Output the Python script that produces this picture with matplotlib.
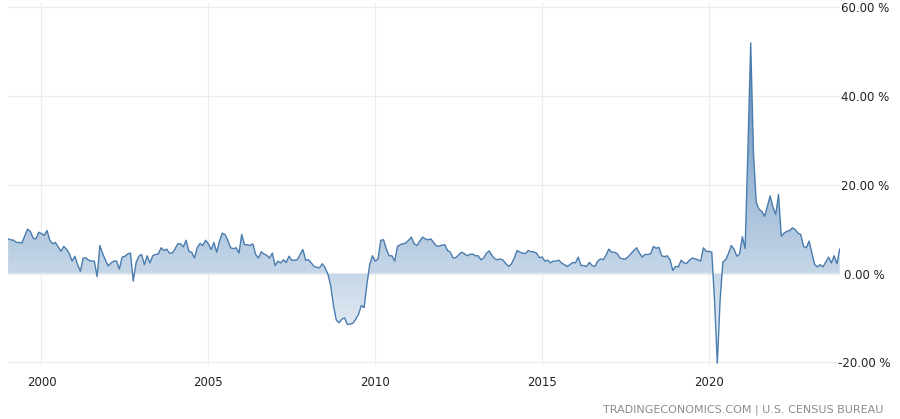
import matplotlib
matplotlib.use("Agg")
import matplotlib.pyplot as plt
from matplotlib.colors import LinearSegmentedColormap
import numpy as np

# ── Data: US retail sales YoY (%), monthly Jan 1999 - Dec 2023 ──────
START_YEAR = 1999
y1999 = [7.8, 7.6, 7.5, 7.0, 7.0, 6.9, 8.5, 10.0, 9.5, 8.0, 7.8, 9.3]
y2000 = [9.0, 8.6, 9.7, 7.5, 6.7, 7.0, 6.0, 5.0, 6.1, 5.5, 4.5, 2.8]
y2001 = [3.9, 2.0, 0.5, 3.5, 3.5, 3.0, 2.8, 2.8, -0.7, 6.3, 4.5, 3.0]
y2002 = [1.7, 2.4, 2.8, 2.8, 1.0, 3.7, 3.9, 4.4, 4.6, -1.7, 2.4, 3.9]
y2003 = [4.3, 2.0, 4.0, 2.4, 4.0, 4.3, 4.4, 5.8, 5.2, 5.5, 4.6, 4.6]
y2004 = [5.5, 6.7, 6.7, 6.0, 7.5, 5.0, 4.8, 3.5, 5.8, 6.8, 6.3, 7.5]
y2005 = [6.7, 5.4, 7.0, 4.8, 7.3, 9.1, 8.8, 7.5, 5.8, 5.6, 5.8, 4.6]
y2006 = [8.8, 6.5, 6.5, 6.3, 6.7, 4.3, 3.5, 4.9, 4.4, 4.1, 3.5, 4.6]
y2007 = [1.8, 2.8, 2.4, 3.1, 2.5, 3.9, 3.0, 3.0, 3.1, 4.3, 5.4, 3.0]
y2008 = [3.1, 2.4, 1.6, 1.4, 1.3, 2.2, 1.3, -0.2, -2.8, -7.3, -10.5, -11.1]
y2009 = [-10.3, -10.0, -11.5, -11.4, -11.2, -10.3, -9.2, -7.2, -7.7, -2.5, 2.0, 4.0]
y2010 = [2.8, 3.3, 7.5, 7.6, 5.5, 4.0, 4.0, 2.8, 6.1, 6.5, 6.7, 6.9]
y2011 = [7.5, 8.2, 6.7, 6.3, 7.3, 8.2, 7.8, 7.6, 7.8, 7.0, 6.2, 6.2]
y2012 = [6.4, 6.5, 5.2, 4.8, 3.5, 3.6, 4.2, 4.8, 4.5, 4.0, 4.3, 4.4]
y2013 = [4.0, 4.0, 3.1, 3.5, 4.6, 5.1, 4.0, 3.3, 3.1, 3.3, 3.0, 2.2]
y2014 = [1.6, 2.2, 3.5, 5.2, 4.8, 4.6, 4.5, 5.2, 4.9, 4.9, 4.6, 3.6]
y2015 = [3.7, 2.8, 3.0, 2.4, 2.8, 2.8, 3.0, 2.4, 2.0, 1.6, 2.0, 2.5]
y2016 = [2.4, 3.7, 1.8, 1.8, 1.6, 2.5, 1.8, 1.6, 2.8, 3.3, 3.1, 4.2]
y2017 = [5.5, 4.8, 4.8, 4.5, 3.5, 3.3, 3.3, 3.8, 4.5, 5.2, 5.8, 4.6]
y2018 = [3.7, 4.3, 4.3, 4.4, 6.1, 5.7, 5.9, 4.0, 3.8, 4.0, 3.1, 0.7]
y2019 = [1.6, 1.5, 3.0, 2.4, 2.3, 3.0, 3.5, 3.3, 3.1, 2.8, 5.8, 5.0]
y2020 = [5.0, 4.8, -6.0, -20.2, -6.0, 2.6, 3.1, 4.5, 6.3, 5.5, 3.9, 4.4]
y2021 = [8.3, 5.6, 28.0, 52.0, 27.0, 16.0, 14.5, 14.0, 12.9, 15.2, 17.5, 15.0]
y2022 = [13.3, 17.8, 8.4, 9.1, 9.5, 9.7, 10.3, 9.9, 9.1, 8.8, 6.1, 5.8]
y2023 = [7.3, 4.6, 2.0, 1.5, 2.0, 1.5, 2.6, 3.7, 2.4, 4.0, 2.2, 5.5]

yearly = [y1999, y2000, y2001, y2002, y2003, y2004, y2005, y2006, y2007,
          y2008, y2009, y2010, y2011, y2012, y2013, y2014, y2015, y2016,
          y2017, y2018, y2019, y2020, y2021, y2022, y2023]
values = np.array([v for yr in yearly for v in yr])
dates = START_YEAR + np.arange(len(values)) / 12.0

x_ticks = [2000, 2005, 2010, 2015, 2020]
y_ticks = [-20, 0, 20, 40, 60]
y_labels = ["-20.00 %", "0.00 %", "20.00 %", "40.00 %", "60.00 %"]

# ── Style ───────────────────────────────────────────────────────────
LINE = "#4a7cae"
GRID = "#ececec"
TEXT = "#222222"
SOURCE = "#8c8c8c"
YMIN, YMAX = -20.8, 61.0

fig = plt.figure(figsize=(9, 4.19), dpi=100, facecolor="white")
ax = fig.add_axes([0.009, 0.127, 0.924, 0.866])

# gradient fill clipped to the area under the line
poly = ax.fill_between(dates, values, 0, facecolor="none", edgecolor="none")
cmap = LinearSegmentedColormap.from_list("fill", ["#f1f6fb", "#4a7db1"])
grad = np.linspace(0, 1, 256).reshape(-1, 1)
im = ax.imshow(grad, extent=[dates[0], dates[-1], YMIN, YMAX], aspect="auto",
               origin="lower", cmap=cmap, zorder=1)
im.set_clip_path(poly.get_paths()[0], transform=ax.transData)

ax.plot(dates, values, color=LINE, lw=1.0, zorder=3)

ax.set_xlim(dates[0], dates[-1])
ax.set_ylim(YMIN, YMAX)

ax.set_xticks(x_ticks)
ax.set_xticklabels([str(t) for t in x_ticks])
ax.set_yticks(y_ticks)
ax.set_yticklabels(y_labels)
ax.yaxis.tick_right()
ax.tick_params(axis="both", length=0, labelsize=8.5, labelcolor=TEXT)
ax.tick_params(axis="x", pad=7)
ax.tick_params(axis="y", pad=18)
for lbl in ax.get_yticklabels():
    lbl.set_horizontalalignment("center")

ax.grid(True, color=GRID, lw=0.8, zorder=0)
ax.set_axisbelow(True)
for s in ax.spines.values():
    s.set_visible(False)

fig.text(0.982, 0.0215, "TRADINGECONOMICS.COM | U.S. CENSUS BUREAU",
         color=SOURCE, fontsize=8, ha="right", va="center")

fig.savefig("out.png", dpi=100, facecolor="white")
